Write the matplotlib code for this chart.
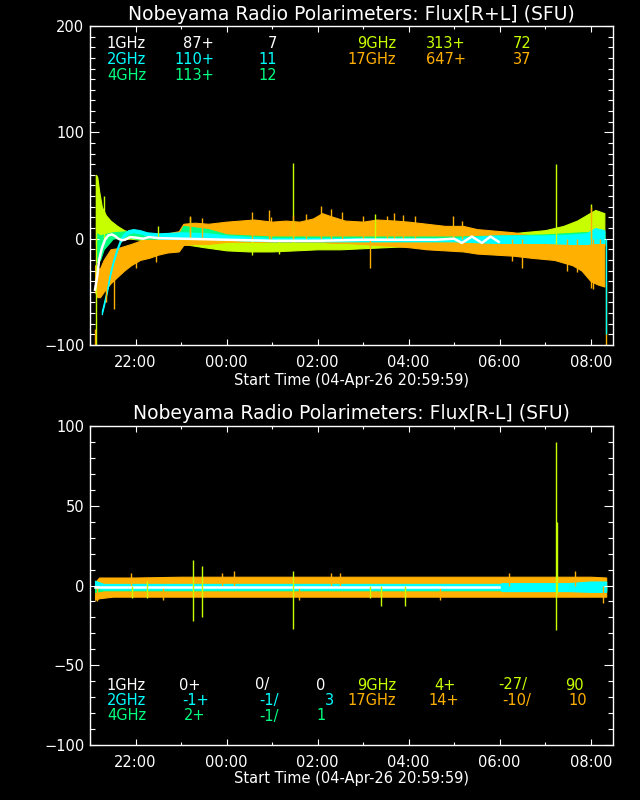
import matplotlib
matplotlib.use("Agg")
import matplotlib.pyplot as plt
from matplotlib.ticker import MultipleLocator, FixedLocator

# colours of the five channels
C1 = "#ffffff"
C2 = "#00ffff"
C4 = "#00ff80"
C9 = "#c8ff00"
C17 = "#ffb000"

# time axis in hours after 20:59:59
XMAX = 11.49
HOUR_TICKS = [1, 3, 5, 7, 9, 11]
HOUR_LABELS = ["22:00", "00:00", "02:00", "04:00", "06:00", "08:00"]

# ---- top panel: R+L envelopes ----
T17 = [0.11, 0.16, 0.22, 0.3, 0.45, 0.6, 0.75, 0.9, 1.1, 1.3, 1.5, 1.7, 1.95, 2.05, 2.3, 2.6,
       3.0, 3.3, 3.6, 4.0, 4.3, 4.6, 4.9, 5.1, 5.3, 5.6, 6.0, 6.3, 6.7, 7.0, 7.4, 7.8, 8.2,
       8.5, 8.9, 9.3, 9.7, 10.2, 10.6, 10.8, 11.0, 11.15, 11.3]
HI17 = [-25, -28, -28, -20, -10, -9, -7, -5, -2, 0, 3, 5, 7, 14, 15, 14,
        16, 17, 18, 16, 17, 16, 19, 24, 21, 17, 16, 18, 17, 16, 14, 12, 12,
        9, 7.5, 6, 3, 2, 1, 0, 0, -1, -2]
LO17 = [-50, -55, -55, -50, -42, -36, -30, -25, -20, -18, -15, -13, -12, -6, -5, -5,
        -3, -3, -3, -3, -3, -3, -3, -3, -4, -4, -5, -6, -7, -8, -10, -11, -12,
        -14, -15, -16, -18, -20, -25, -30, -40, -43, -45]
SPK17 = [(0.11, -100, -85), (0.52, -66, -30), (0.35, -60, -40), (1.0, -28, -10),
         (1.45, -22, -5), (2.2, 0, 21), (2.45, 0, 19), (3.56, 0, 25), (3.93, 0, 27),
         (3.97, 0, 20), (4.45, 0, 22), (4.75, 0, 23), (5.08, 0, 31), (5.3, 0, 28),
         (5.53, 0, 25), (6.0, 0, 21), (6.16, -28, 0), (6.53, 0, 21), (6.68, 0, 24),
         (6.88, 0, 22), (7.13, 0, 21), (7.98, 0, 21), (8.17, 0, 17),
         (9.28, -21, 0), (9.5, -28, 0), (10.47, -30, 0), (10.7, -31, 0),
         (11.0, -46, 30), (11.06, -47, 0), (11.2, -43, 0), (11.34, -100, -40)]

T9 = [0.13, 0.16, 0.2, 0.26, 0.35, 0.45, 0.6, 0.75, 0.9, 1.1, 1.5, 1.9, 2.05, 2.5, 3.0, 3.5,
      4.0, 4.5, 5.0, 5.5, 6.0, 6.5, 7.0, 7.5, 8.0, 8.5, 9.0, 9.5, 10.0, 10.4, 10.7, 10.9,
      11.1, 11.3]
HI9 = [60, 58, 45, 30, 22, 17, 12, 8, 6, 4, 3, 2, 8, 2, 1, 0,
       0, 0, 0, 0, 0, 0, 0, 1, 2, 3, 4, 6, 8, 12, 17, 22,
       27, 24]
LO9 = [-5, -3, 0, 2, 2, 2, 1, 0, 0, -1, -3, -4, -5, -8, -11, -12,
       -12, -11, -10, -10, -9, -8, -7, -6, -5, -5, -5, -5, -5, -5, -5, -6,
       -6, -6]
SPK9 = [(0.13, -100, 60), (0.3, 0, 40), (1.5, 0, 12), (2.2, 0, 20), (3.56, -15, 0),
        (4.16, -14, 0), (4.47, -5, 71), (6.27, 0, 23), (10.23, -5, 70), (11.0, 0, 33)]

T4 = [0.15, 0.22, 0.3, 0.5, 0.8, 1.0, 1.5, 1.95, 2.05, 2.6, 3.0, 4, 6, 8, 9, 10, 10.8, 11.3]
HI4 = [5, 3, 4, 6, 7, 5, 4, 4, 12, 9, 4, 2, 2, 2, 3, 4, 6, 6]
LO4 = [-22, -20, -10, 0, 2, 0, 0, 0, 2, 1, -1, -2, -2, -2, -3, -3, -3, -3]

T2 = [0.26, 0.3, 0.37, 0.44, 0.51, 0.59, 0.66, 0.73, 0.84, 0.95, 1.1, 1.25, 1.5, 2.0, 2.6,
      3.0, 4, 6, 8, 8.9, 10, 10.6, 10.9, 11.1, 11.3]
LO2 = [-71, -64, -51, -35, -23, -12, -4, 1, 5, 6, 5, 3, 0, 0, 0,
       -1, -2.5, -2.5, -2.5, -4, -4, -5, -5, -4, -4]
HI2 = [-68, -61, -48, -32, -20, -9, -1, 4, 8, 9, 8, 6, 5, 6, 5,
       3, 0.5, 0.5, 0.5, 3, 3, 4, 5, 10, 8]
SPK2 = [(11.33, -90, 0)]

T1 = [0.11, 0.16, 0.2, 0.26, 0.33, 0.4, 0.48, 0.55, 0.62, 0.7, 0.77, 0.88, 1.0, 1.17, 1.3,
      1.5, 2.0, 3.0, 4.0, 5.0, 6.0, 7.0, 7.6, 8.0, 8.17, 8.39, 8.61, 8.8, 8.98]
V1 = [-48, -35, -20, -9, -1, 3, 4, 2.5, 0, -1.5, -1, 1.5, 1, 0, 1.5,
      0.5, 0, -1, -2, -2, -1, -1, -1, 0, -4, 2, -4, 2, -3]

# ---- bottom panel: R-L ----
TB17 = [0.11, 0.2, 0.5, 1, 2, 3, 4, 5, 6, 7, 8, 9, 10, 11, 11.34]
HIB17 = [2, 5, 5, 5, 5.5, 5.5, 5.5, 5.5, 5.5, 5.5, 5.5, 5.5, 5.5, 5.5, 5]
LOB17 = [-9, -8, -7, -7, -7, -7, -7, -7, -7, -7, -7, -7, -7, -7, -7]
SPKB17 = [(0.15, -10, 0), (0.9, 0, 8), (1.6, -9, 0), (2.9, 0, 8), (3.17, 0, 9),
          (4.6, -9, 0), (5.3, 0, 8), (5.5, 0, 8), (7.7, -9, 0), (9.2, 0, 8),
          (10.65, 0, 9), (11.28, -11, 0)]

TB9 = [0.13, 11.34]
HIB9 = [1, 1]
LOB9 = [-4, -4]
SPKB9 = [(0.93, -8, 0), (1.25, -8, 3), (2.27, -22, 16), (2.45, -20, 12), (4.47, -27, 9),
         (6.15, -8, 0), (6.4, -13, 0), (6.92, -13, 0), (10.23, -28, 90), (10.25, -5, 40)]

TB4 = [0.11, 0.3, 11.34]
HIB4 = [0, 0, 0]
LOB4 = [-4, -3, -3]

TB2 = [0.11, 0.3, 9.0, 9.05, 10.5, 11.0, 11.34]
HIB2 = [3, 1, 1, 1.5, 1.5, 2.5, 2.5]
LOB2 = [-1, -2.5, -2.5, -3.5, -3.5, -4, -4]

TB1 = [0.11, 3.0, 6.0, 8.98]
VB1 = [-1, -1, -1, -1]

# ---- legend texts ----
TOP_ROWS = [
    [("1GHz", C1), ("87+", C1), ("7", C1), ("9GHz", C9), ("313+", C9), ("72", C9)],
    [("2GHz", C2), ("110+", C2), ("11", C2), ("17GHz", C17), ("647+", C17), ("37", C17)],
    [("4GHz", C4), ("113+", C4), ("12", C4)],
]
TOP_RIGHT = [146, 214, 277, 396, 466, 531]
BOT_ROWS = [
    [("1GHz", C1), ("0+", C1), ("0/", C1), ("0", C1), ("9GHz", C9), ("4+", C9), ("-27/", C9), ("90", C9)],
    [("2GHz", C2), ("-1+", C2), ("-1/", C2), ("3", C2), ("17GHz", C17), ("14+", C17), ("-10/", C17), ("10", C17)],
    [("4GHz", C4), ("2+", C4), ("-1/", C4), ("1", C4)],
]
BOT_RIGHT = [
    [146, 201, 269, 325, 396, 456, 527, 584],
    [146, 209, 279, 334, 396, 459, 531, 587],
    [146, 205, 279, 326],
]

W, H = 640, 800
FS = 10.5


def px(x, y):
    return x / W, 1 - y / H


def band(ax, t, lo, hi, color):
    ax.fill_between(t, lo, hi, color=color, lw=0.8, edgecolor=color)


def spikes(ax, spk, color):
    ax.vlines([s[0] for s in spk], [s[1] for s in spk], [s[2] for s in spk],
              colors=color, lw=1.0)


def style(ax, ylim, major, minor):
    ax.set_facecolor("black")
    ax.set_xlim(0, XMAX)
    ax.set_ylim(*ylim)
    for sp in ax.spines.values():
        sp.set_color("white")
        sp.set_linewidth(1.0)
    ax.xaxis.set_major_locator(FixedLocator(HOUR_TICKS))
    ax.xaxis.set_minor_locator(MultipleLocator(1))
    ax.set_xticklabels(HOUR_LABELS)
    ax.yaxis.set_major_locator(MultipleLocator(major))
    ax.yaxis.set_minor_locator(MultipleLocator(minor))
    ax.tick_params(which="both", direction="in", top=True, right=True,
                   colors="white", labelsize=FS, width=0.8)
    ax.tick_params(axis="x", which="major", length=4.6, pad=7)
    ax.tick_params(axis="x", which="minor", length=2.4)
    ax.tick_params(axis="y", which="major", length=6.7, pad=4)
    ax.tick_params(axis="y", which="minor", length=3.4)


fig = plt.figure(figsize=(6.4, 8), dpi=100, facecolor="black")
ax1 = fig.add_axes([90 / W, 455 / H, 523 / W, 319 / H])
ax2 = fig.add_axes([90 / W, 55 / H, 523 / W, 319 / H])

# top panel
band(ax1, T9, LO9, HI9, C9)
spikes(ax1, SPK9, C9)
band(ax1, T17, LO17, HI17, C17)
spikes(ax1, SPK17, C17)
band(ax1, T4, LO4, HI4, C4)
band(ax1, T2, LO2, HI2, C2)
spikes(ax1, SPK2, C2)
ax1.plot(T1, V1, color=C1, lw=1.8)
style(ax1, (-100, 200), 100, 10)

# bottom panel
band(ax2, TB9, LOB9, HIB9, C9)
band(ax2, TB17, LOB17, HIB17, C17)
spikes(ax2, SPKB17, C17)
band(ax2, TB4, LOB4, HIB4, C4)
band(ax2, TB2, LOB2, HIB2, C2)
ax2.plot(TB1, VB1, color=C1, lw=1.8)
spikes(ax2, SPKB9, C9)
style(ax2, (-100, 100), 50, 10)

# titles and axis labels
for y_title, name, y_lab in [(15, "Nobeyama Radio Polarimeters: Flux[R+L] (SFU)", 380),
                             (414, "Nobeyama Radio Polarimeters: Flux[R-L] (SFU)", 779)]:
    fig.text(*px(351.5, y_title), name, color="white", fontsize=13.5,
             ha="center", va="center")
    fig.text(*px(351.5, y_lab), "Start Time (04-Apr-26 20:59:59)", color="white",
             fontsize=FS, ha="center", va="center")

# channel summaries
for row, y in zip(TOP_ROWS, [43, 59.5, 76]):
    for (txt, col), xr in zip(row, TOP_RIGHT):
        fig.text(*px(xr, y), txt, color=col, fontsize=FS, ha="right", va="center")
for row, rights, y in zip(BOT_ROWS, BOT_RIGHT, [685, 700.5, 716]):
    for (txt, col), xr in zip(row, rights):
        fig.text(*px(xr, y), txt, color=col, fontsize=FS, ha="right", va="center")

fig.savefig("out.png", dpi=100, facecolor="black")
